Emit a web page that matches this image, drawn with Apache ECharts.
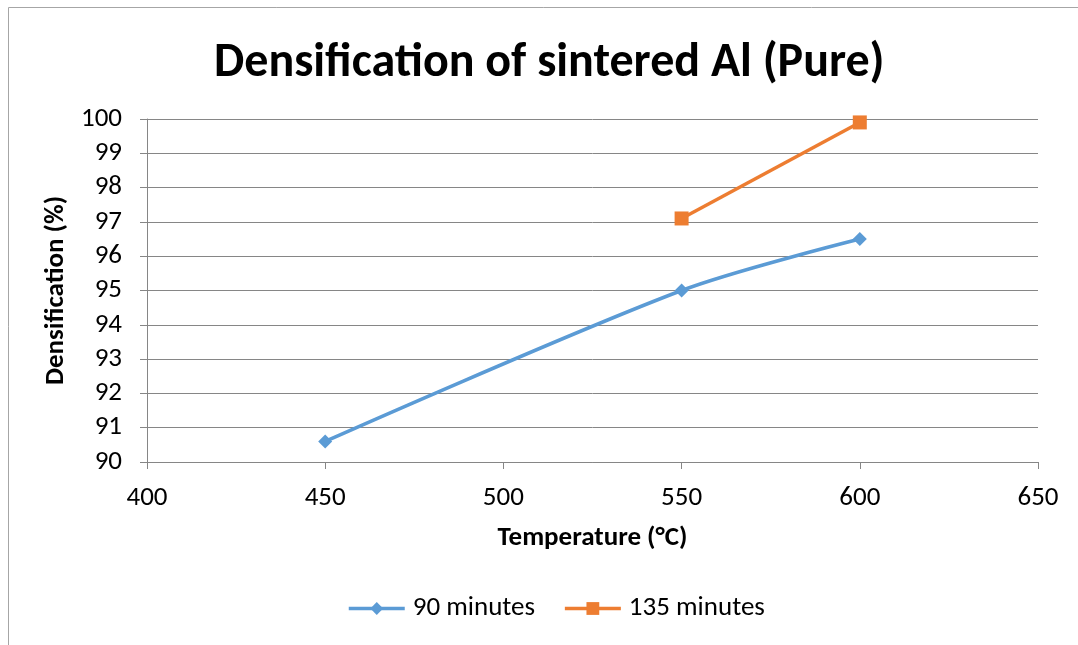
<!DOCTYPE html>
<html>
<head>
<meta charset="utf-8">
<script src="https://cdn.jsdelivr.net/npm/echarts@6/dist/echarts.min.js"></script>
<style>
  html, body { margin: 0; padding: 0; background: #fff; }
  #chart { width: 1078px; height: 645px; }
</style>
</head>
<body>
<div id="chart"></div>
<script>
// temperature (°C) and densification (%)
const temps90 = [450, 550, 600]
const dens90 = [90.6, 95.0, 96.5]
const temps135 = [550, 600]
const dens135 = [97.1, 99.9]
const seriesNames = ['90 minutes', '135 minutes']

const font = 'Carlito, "Open Sans", "Liberation Sans", sans-serif'

const pairs = (xs, ys) => xs.map((x, i) => [x, ys[i]])

const myChart = echarts.init(document.getElementById('chart'))
const option = {
  backgroundColor: '#fff',
  title: {
    text: 'Densification of sintered Al (Pure)',
    left: 209,
    top: 35,
    textStyle: { fontFamily: font, fontSize: 48, fontWeight: 'bold', color: '#000' }
  },
  graphic: [{
    type: 'rect',
    shape: { x: 8.5, y: 7.5, width: 1090, height: 660 },
    style: { fill: 'none', stroke: '#a6a6a6', lineWidth: 1 },
    silent: true
  }],
  legend: {
    bottom: 23,
    left: 347,
    padding: 0,
    itemWidth: 56,
    itemHeight: 16,
    itemGap: 28,
    lineStyle: { width: 3.5 },
    textStyle: { fontFamily: font, fontSize: 27, color: '#000', padding: [0, 0, 0, 3] },
    data: seriesNames
  },
  grid: { left: 147, right: 40, top: 119, bottom: 183 },
  xAxis: {
    type: 'value',
    min: 400,
    max: 650,
    interval: 50,
    name: 'Temperature (°C)',
    nameLocation: 'middle',
    nameGap: 63,
    nameTextStyle: { fontFamily: font, fontSize: 27, fontWeight: 'bold', color: '#000' },
    axisLine: { lineStyle: { color: '#868686', width: 1 } },
    axisTick: { show: true, length: 7, lineStyle: { color: '#868686' } },
    axisLabel: { fontFamily: font, fontSize: 27, color: '#000', margin: 23 },
    splitLine: { show: false }
  },
  yAxis: {
    type: 'value',
    min: 90,
    max: 100,
    interval: 1,
    name: 'Densification (%)',
    nameLocation: 'middle',
    nameGap: 68,
    nameTextStyle: { fontFamily: font, fontSize: 27, fontWeight: 'bold', color: '#000' },
    axisLine: { show: true, lineStyle: { color: '#868686', width: 1 } },
    axisTick: { show: true, length: 7, lineStyle: { color: '#868686' } },
    axisLabel: { fontFamily: font, fontSize: 27, color: '#000', margin: 25 },
    splitLine: { lineStyle: { color: '#868686', width: 1 } }
  },
  series: [{
    name: seriesNames[0],
    type: 'line',
    data: pairs(temps90, dens90),
    smooth: 0.3,
    symbol: 'diamond',
    symbolSize: 14,
    lineStyle: { color: '#5b9bd5', width: 3.5 },
    itemStyle: { color: '#5b9bd5' }
  }, {
    name: seriesNames[1],
    type: 'line',
    data: pairs(temps135, dens135),
    symbol: 'rect',
    symbolSize: 14,
    lineStyle: { color: '#ed7d31', width: 3.5 },
    itemStyle: { color: '#ed7d31' }
  }]
}
myChart.setOption(option, true)
window.addEventListener('resize', function () {
  myChart.resize()
})
</script>
</body>
</html>
